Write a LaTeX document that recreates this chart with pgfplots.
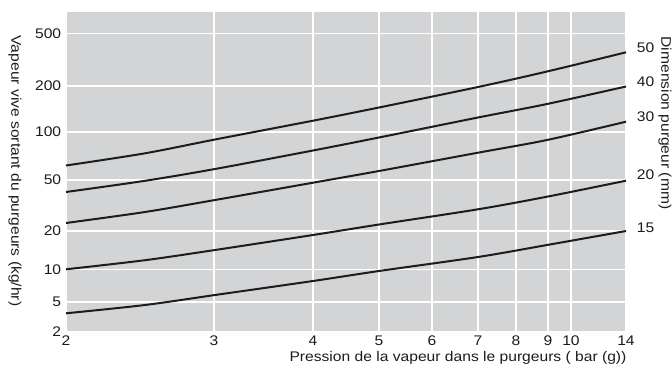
\documentclass[border=0pt]{standalone}
\usepackage{pgfplots}
\pgfplotsset{compat=1.18}
\usepackage{fontspec}
\setmainfont{Liberation Sans}[FakeStretch=1.12]
\definecolor{bg}{RGB}{211,212,214}
\definecolor{ink}{RGB}{28,28,28}
\begin{document}
\fontsize{14}{16}\selectfont
\begin{tikzpicture}
\path[use as bounding box] (-66bp,-37bp) rectangle (606bp,332bp);
\begin{axis}[
  at={(0,0)}, anchor=south west,
  scale only axis, width=560bp, height=320bp,
  xmin=66, xmax=626, ymin=12, ymax=332, y dir=reverse,
  axis background/.style={fill=bg},
  axis line style={draw=none},
  major tick length=0pt,
  xtick={66,214,313,379,432,478,516,548,571,626},
  xticklabels={2,3,4,5,6,7,8,9,10,14},
  ytick={33.5,86,131.7,180,230.7,269.5,301.7,332},
  yticklabels={500,200,100,50,20,10,5,2},
  grid=major,
  major grid style={white, line width=1.8bp},
  tick label style={text=ink, font=\fontsize{14}{16}\selectfont},
  xticklabel style={yshift=1bp},
  /pgf/number format/assume math mode=true,
  clip=false,
]
\addplot[ink, line width=2bp, smooth] coordinates {(66,165.5)(145,153.3)(215,139.5)(313,120.7)(379,107.5)(478,87)(547,71.5)(626,52.3)};
\addplot[ink, line width=2bp, smooth] coordinates {(66,192)(145,180.8)(215,169)(313,150.5)(379,137.5)(478,117.5)(547,104)(626,86.5)};
\addplot[ink, line width=2bp, smooth] coordinates {(66,223)(145,212)(215,200)(313,182.7)(379,171)(478,152.7)(547,140)(626,121.7)};
\addplot[ink, line width=2bp, smooth] coordinates {(66,269.3)(145,260.2)(215,250)(313,235)(379,224.5)(478,209.3)(547,196.7)(626,180.7)};
\addplot[ink, line width=2bp, smooth] coordinates {(66,313.3)(145,305)(215,295)(313,281)(379,271)(478,257)(547,245)(626,231)};
\end{axis}
\node[text=ink, anchor=west] at (566bp,284bp) {50};
\node[text=ink, anchor=west] at (566bp,250bp) {40};
\node[text=ink, anchor=west] at (566bp,215bp) {30};
\node[text=ink, anchor=west] at (566bp,157bp) {20};
\node[text=ink, anchor=west] at (566bp,104bp) {15};
\node[text=ink, rotate=-90] at (-51bp,161bp) {Vapeur vive sortant du purgeurs (kg/hr)};
\node[text=ink, rotate=-90] at (599bp,209bp) {Dimension purgeur (mm)};
\node[text=ink] at (392bp,-26bp) {Pression de la vapeur dans le purgeurs ( bar (g))};
\end{tikzpicture}
\end{document}
